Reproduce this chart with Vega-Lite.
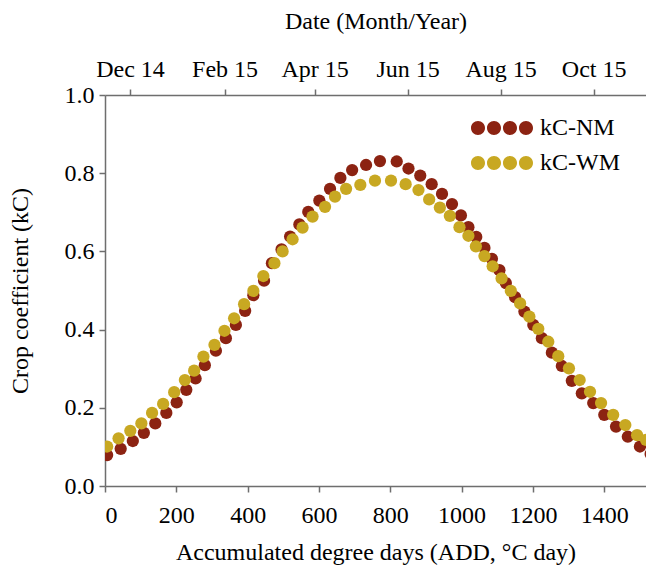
{
  "$schema": "https://vega.github.io/schema/vega-lite/v6.json",
  "width": 541,
  "height": 391,
  "autosize": {"type": "none"},
  "padding": {"left": 105, "top": 95, "right": 0, "bottom": 89},
  "background": "white",
  "config": {
    "view": {"stroke": null},
    "font": "Liberation Serif",
    "axis": {
      "grid": false,
      "domainColor": "#6e6e6e",
      "domainWidth": 1.5,
      "tickColor": "#6e6e6e",
      "tickWidth": 1.5,
      "tickSize": 6,
      "labelFont": "Liberation Serif",
      "titleFont": "Liberation Serif",
      "labelFontSize": 24,
      "titleFontSize": 24,
      "labelColor": "black",
      "titleColor": "black",
      "titleFontWeight": "normal"
    }
  },
  "datasets": {
    "kc": [
      {"series": "kC-NM", "add": 6, "kc": 0.079},
      {"series": "kC-NM", "add": 44, "kc": 0.095},
      {"series": "kC-NM", "add": 78, "kc": 0.115},
      {"series": "kC-NM", "add": 109, "kc": 0.136},
      {"series": "kC-NM", "add": 141, "kc": 0.160},
      {"series": "kC-NM", "add": 172, "kc": 0.187},
      {"series": "kC-NM", "add": 201, "kc": 0.214},
      {"series": "kC-NM", "add": 228, "kc": 0.246},
      {"series": "kC-NM", "add": 254, "kc": 0.275},
      {"series": "kC-NM", "add": 280, "kc": 0.309},
      {"series": "kC-NM", "add": 311, "kc": 0.346},
      {"series": "kC-NM", "add": 339, "kc": 0.378},
      {"series": "kC-NM", "add": 367, "kc": 0.412},
      {"series": "kC-NM", "add": 393, "kc": 0.448},
      {"series": "kC-NM", "add": 416, "kc": 0.488},
      {"series": "kC-NM", "add": 446, "kc": 0.525},
      {"series": "kC-NM", "add": 468, "kc": 0.570},
      {"series": "kC-NM", "add": 495, "kc": 0.605},
      {"series": "kC-NM", "add": 519, "kc": 0.638},
      {"series": "kC-NM", "add": 545, "kc": 0.669},
      {"series": "kC-NM", "add": 570, "kc": 0.701},
      {"series": "kC-NM", "add": 601, "kc": 0.730},
      {"series": "kC-NM", "add": 631, "kc": 0.760},
      {"series": "kC-NM", "add": 660, "kc": 0.788},
      {"series": "kC-NM", "add": 693, "kc": 0.808},
      {"series": "kC-NM", "add": 732, "kc": 0.821},
      {"series": "kC-NM", "add": 771, "kc": 0.831},
      {"series": "kC-NM", "add": 818, "kc": 0.830},
      {"series": "kC-NM", "add": 851, "kc": 0.812},
      {"series": "kC-NM", "add": 884, "kc": 0.794},
      {"series": "kC-NM", "add": 916, "kc": 0.772},
      {"series": "kC-NM", "add": 945, "kc": 0.747},
      {"series": "kC-NM", "add": 973, "kc": 0.721},
      {"series": "kC-NM", "add": 998, "kc": 0.692},
      {"series": "kC-NM", "add": 1019, "kc": 0.662},
      {"series": "kC-NM", "add": 1041, "kc": 0.637},
      {"series": "kC-NM", "add": 1064, "kc": 0.609},
      {"series": "kC-NM", "add": 1085, "kc": 0.581},
      {"series": "kC-NM", "add": 1106, "kc": 0.552},
      {"series": "kC-NM", "add": 1124, "kc": 0.519},
      {"series": "kC-NM", "add": 1150, "kc": 0.483},
      {"series": "kC-NM", "add": 1176, "kc": 0.446},
      {"series": "kC-NM", "add": 1201, "kc": 0.412},
      {"series": "kC-NM", "add": 1225, "kc": 0.378},
      {"series": "kC-NM", "add": 1253, "kc": 0.341},
      {"series": "kC-NM", "add": 1281, "kc": 0.307},
      {"series": "kC-NM", "add": 1309, "kc": 0.269},
      {"series": "kC-NM", "add": 1337, "kc": 0.237},
      {"series": "kC-NM", "add": 1369, "kc": 0.212},
      {"series": "kC-NM", "add": 1400, "kc": 0.182},
      {"series": "kC-NM", "add": 1433, "kc": 0.152},
      {"series": "kC-NM", "add": 1466, "kc": 0.126},
      {"series": "kC-NM", "add": 1500, "kc": 0.101},
      {"series": "kC-NM", "add": 1530, "kc": 0.082},
      {"series": "kC-WM", "add": 6, "kc": 0.101},
      {"series": "kC-WM", "add": 38, "kc": 0.122},
      {"series": "kC-WM", "add": 71, "kc": 0.141},
      {"series": "kC-WM", "add": 102, "kc": 0.160},
      {"series": "kC-WM", "add": 132, "kc": 0.187},
      {"series": "kC-WM", "add": 163, "kc": 0.210},
      {"series": "kC-WM", "add": 194, "kc": 0.240},
      {"series": "kC-WM", "add": 224, "kc": 0.271},
      {"series": "kC-WM", "add": 250, "kc": 0.295},
      {"series": "kC-WM", "add": 276, "kc": 0.331},
      {"series": "kC-WM", "add": 307, "kc": 0.361},
      {"series": "kC-WM", "add": 335, "kc": 0.397},
      {"series": "kC-WM", "add": 362, "kc": 0.429},
      {"series": "kC-WM", "add": 390, "kc": 0.465},
      {"series": "kC-WM", "add": 416, "kc": 0.499},
      {"series": "kC-WM", "add": 444, "kc": 0.537},
      {"series": "kC-WM", "add": 475, "kc": 0.570},
      {"series": "kC-WM", "add": 498, "kc": 0.600},
      {"series": "kC-WM", "add": 526, "kc": 0.631},
      {"series": "kC-WM", "add": 554, "kc": 0.661},
      {"series": "kC-WM", "add": 582, "kc": 0.689},
      {"series": "kC-WM", "add": 617, "kc": 0.714},
      {"series": "kC-WM", "add": 645, "kc": 0.740},
      {"series": "kC-WM", "add": 676, "kc": 0.760},
      {"series": "kC-WM", "add": 716, "kc": 0.770},
      {"series": "kC-WM", "add": 757, "kc": 0.781},
      {"series": "kC-WM", "add": 802, "kc": 0.781},
      {"series": "kC-WM", "add": 843, "kc": 0.772},
      {"series": "kC-WM", "add": 879, "kc": 0.757},
      {"series": "kC-WM", "add": 909, "kc": 0.733},
      {"series": "kC-WM", "add": 939, "kc": 0.712},
      {"series": "kC-WM", "add": 967, "kc": 0.691},
      {"series": "kC-WM", "add": 994, "kc": 0.662},
      {"series": "kC-WM", "add": 1019, "kc": 0.640},
      {"series": "kC-WM", "add": 1040, "kc": 0.613},
      {"series": "kC-WM", "add": 1064, "kc": 0.588},
      {"series": "kC-WM", "add": 1087, "kc": 0.562},
      {"series": "kC-WM", "add": 1112, "kc": 0.531},
      {"series": "kC-WM", "add": 1138, "kc": 0.499},
      {"series": "kC-WM", "add": 1164, "kc": 0.467},
      {"series": "kC-WM", "add": 1190, "kc": 0.433},
      {"series": "kC-WM", "add": 1215, "kc": 0.402},
      {"series": "kC-WM", "add": 1243, "kc": 0.369},
      {"series": "kC-WM", "add": 1271, "kc": 0.332},
      {"series": "kC-WM", "add": 1301, "kc": 0.301},
      {"series": "kC-WM", "add": 1331, "kc": 0.271},
      {"series": "kC-WM", "add": 1360, "kc": 0.241},
      {"series": "kC-WM", "add": 1391, "kc": 0.212},
      {"series": "kC-WM", "add": 1425, "kc": 0.182},
      {"series": "kC-WM", "add": 1459, "kc": 0.156},
      {"series": "kC-WM", "add": 1492, "kc": 0.130},
      {"series": "kC-WM", "add": 1517, "kc": 0.118}
    ],
    "months": [
      {"date": "2014-12-01"},
      {"date": "2015-02-01"},
      {"date": "2015-04-01"},
      {"date": "2015-06-01"},
      {"date": "2015-08-01"},
      {"date": "2015-10-01"}
    ]
  },
  "layer": [
    {
      "data": {"name": "kc"},
      "mark": {"type": "circle", "size": 150, "opacity": 1, "clip": true},
      "encoding": {
        "x": {
          "field": "add",
          "type": "quantitative",
          "scale": {"domain": [0, 1517], "nice": false, "zero": false},
          "axis": {
            "orient": "bottom",
            "title": "Accumulated degree days (ADD, °C day)",
            "values": [0, 200, 400, 600, 800, 1000, 1200, 1400],
            "format": "d",
            "labelPadding": 11,
            "titlePadding": 13
          }
        },
        "y": {
          "field": "kc",
          "type": "quantitative",
          "scale": {"domain": [0, 1], "nice": false},
          "axis": {
            "title": "Crop coefficient (kC)",
            "values": [0, 0.2, 0.4, 0.6, 0.8, 1.0],
            "format": ".1f",
            "labelPadding": 5,
            "titlePadding": 32
          }
        },
        "color": {
          "field": "series",
          "type": "nominal",
          "scale": {"domain": ["kC-NM", "kC-WM"], "range": ["#8C2312", "#C8A822"]},
          "legend": {
            "orient": "none",
            "legendX": 385,
            "legendY": 21,
            "title": null,
            "padding": 0,
            "symbolType": "M-3.875,0 a0.875,0.875 0 1,0 1.75,0 a0.875,0.875 0 1,0 -1.75,0 M-1.875,0 a0.875,0.875 0 1,0 1.75,0 a0.875,0.875 0 1,0 -1.75,0 M0.125,0 a0.875,0.875 0 1,0 1.75,0 a0.875,0.875 0 1,0 -1.75,0 M2.125,0 a0.875,0.875 0 1,0 1.75,0 a0.875,0.875 0 1,0 -1.75,0 Z",
            "symbolSize": 256,
            "symbolStrokeWidth": 0,
            "labelFont": "Liberation Serif",
            "labelFontSize": 24,
            "labelColor": "black",
            "labelOffset": 26,
            "rowPadding": 11
          }
        }
      }
    },
    {
      "data": {"name": "months"},
      "mark": {"type": "point", "opacity": 0},
      "encoding": {
        "x": {
          "field": "date",
          "type": "temporal",
          "scale": {
            "type": "utc",
            "domain": [
              {"year": 2014, "month": 11, "date": 14, "hours": 14, "utc": true},
              {"year": 2015, "month": 11, "date": 4, "hours": 7, "utc": true}
            ]
          },
          "axis": {
            "orient": "top",
            "title": "Date (Month/Year)",
            "labelExpr": "utcFormat(datum.value, '%b %y')",
            "values": [
              {"year": 2014, "month": 12, "date": 1, "utc": true},
              {"year": 2015, "month": 2, "date": 1, "utc": true},
              {"year": 2015, "month": 4, "date": 1, "utc": true},
              {"year": 2015, "month": 6, "date": 1, "utc": true},
              {"year": 2015, "month": 8, "date": 1, "utc": true},
              {"year": 2015, "month": 10, "date": 1, "utc": true}
            ],
            "labelPadding": 8,
            "titlePadding": 24
          }
        }
      }
    }
  ],
  "resolve": {"scale": {"x": "independent"}, "axis": {"x": "independent"}}
}
